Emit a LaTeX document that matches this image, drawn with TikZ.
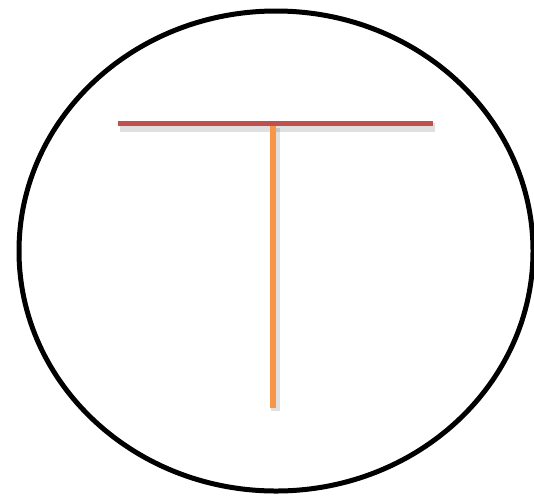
\documentclass[tikz,border=0pt]{standalone}
\usepackage{tikz}
\usetikzlibrary{calc}
\definecolor{barred}{HTML}{C0504D}
\definecolor{stemorange}{HTML}{F79646}

\begin{document}
\begin{tikzpicture}[x=1pt, y=-1pt, line cap=butt,
    shade line/.style={draw=black, opacity=0.12, line width=9pt}]
    \useasboundingbox (0, 0) rectangle (534, 496);

    % 外框椭圆
    \draw[line width=5pt] (276, 251) ellipse [x radius=257, y radius=240];

    % 横杆与竖杆的端点
    \coordinate (L) at (118, 123);
    \coordinate (R) at (433, 123);
    \coordinate (T) at (273, 125);
    \coordinate (D) at (273, 408);

    % 阴影
    \draw[shade line] ($(T)+(2,3)$) -- ($(D)+(2,3)$);
    \draw[shade line] ($(L)+(2,4)$) -- ($(R)+(2,4)$);

    % 竖杆和横杆
    \draw[stemorange, line width=5.5pt] (T) -- (D);
    \draw[barred, line width=5pt] (L) -- (R);
\end{tikzpicture}
\end{document}
